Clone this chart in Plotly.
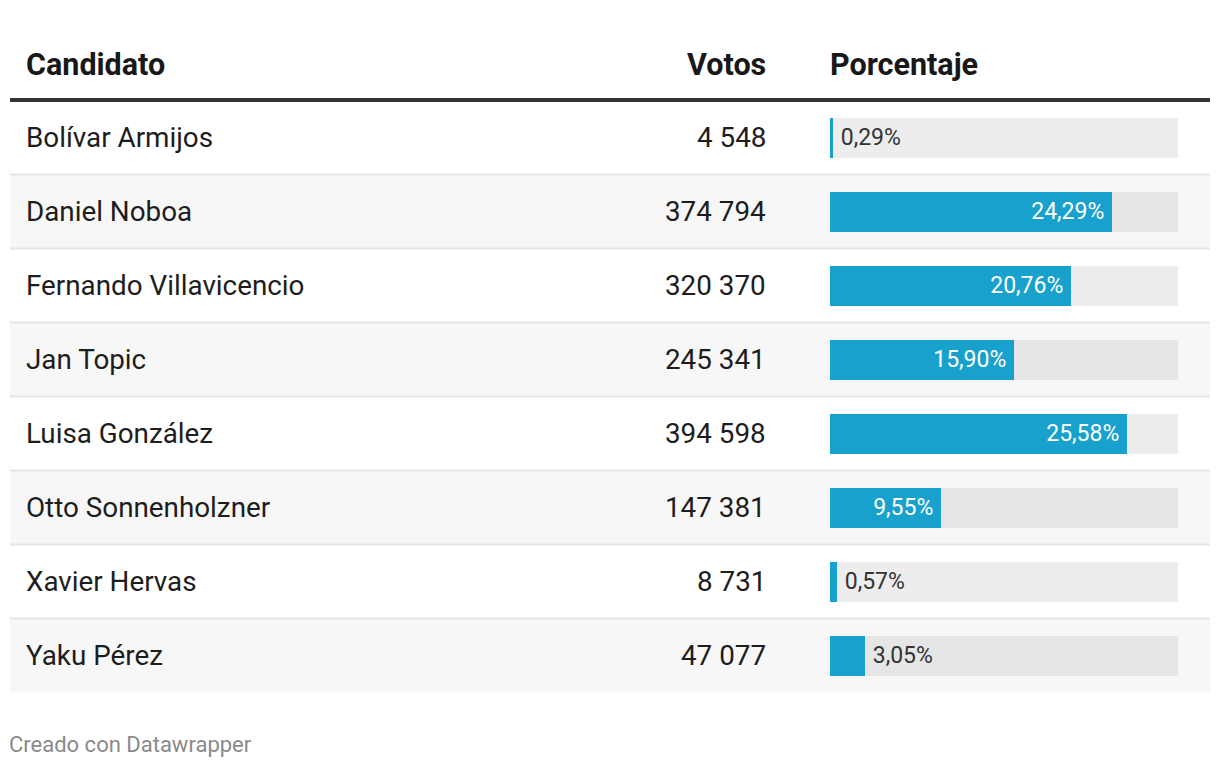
import plotly.graph_objects as go

# ---- data ----
candidatos = ["Bolívar Armijos", "Daniel Noboa", "Fernando Villavicencio", "Jan Topic",
              "Luisa González", "Otto Sonnenholzner", "Xavier Hervas", "Yaku Pérez"]
votos = [4548, 374794, 320370, 245341, 394598, 147381, 8731, 47077]
porcentaje = [0.29, 24.29, 20.76, 15.90, 25.58, 9.55, 0.57, 3.05]
headers = ["Candidato", "Votos", "Porcentaje"]
footer = "Creado con Datawrapper"

# ---- styling ----
W, H = 1220, 768
BLUE = "#18a1cd"
FONT = "Roboto"
TXT = "#1d1d1d"
n = len(candidatos)
rows = list(range(n))

def px_x(p):
    return p / W

def px_y(p):
    return 1 - p / H

THIN = "\u2009"
vot_txt = [f"{v:,}".replace(",", " ") for v in votos]
pct_pos = ["inside" if p > 5 else "outside" for p in porcentaje]
pct_txt = [(f"{p:.2f}".replace(".", ",") + "%" + THIN) if pos == "inside"
           else (THIN + f"{p:.2f}".replace(".", ",") + "%")
           for p, pos in zip(porcentaje, pct_pos)]
row_colors = ["#ffffff" if i % 2 == 0 else "#f7f7f7" for i in rows]
track_colors = ["#ededed" if i % 2 == 0 else "#e6e6e6" for i in rows]

fig = go.Figure()

# row backgrounds (full-width axis x)
fig.add_trace(go.Bar(
    x=[1] * n, y=rows, orientation="h", width=1, base=0,
    marker=dict(color=row_colors, line=dict(width=0)),
    xaxis="x", yaxis="y", hoverinfo="skip", showlegend=False))

# track bars (x2)
fig.add_trace(go.Bar(
    x=[30] * n, y=rows, orientation="h", width=40 / 74,
    marker=dict(color=track_colors, line=dict(width=0)),
    xaxis="x2", yaxis="y", hoverinfo="skip", showlegend=False))

# value bars (x2)
fig.add_trace(go.Bar(
    x=porcentaje, y=rows, orientation="h", width=40 / 74,
    marker=dict(color=BLUE, line=dict(width=0)),
    text=pct_txt, textposition=pct_pos, insidetextanchor="end",
    insidetextfont=dict(family=FONT, size=23, color="#ffffff"),
    outsidetextfont=dict(family=FONT, size=23, color="#333333"),
    cliponaxis=False, constraintext="none",
    xaxis="x2", yaxis="y", hoverinfo="skip", showlegend=False))

annotations = []
for i in rows:
    annotations.append(dict(x=14 / 1200, y=i, xref="x", yref="y", text=candidatos[i],
                            xanchor="left", yanchor="middle", showarrow=False,
                            font=dict(family=FONT, size=27.8, color=TXT)))
    annotations.append(dict(x=758 / 1200, y=i, xref="x", yref="y", text=vot_txt[i],
                            xanchor="right", yanchor="middle", showarrow=False,
                            font=dict(family=FONT, size=27.8, color=TXT)))

# headers
annotations += [
    dict(x=px_x(24), y=px_y(64), xref="paper", yref="paper", text=f"<b>{headers[0]}</b>",
         xanchor="left", yanchor="middle", showarrow=False,
         font=dict(family=FONT, size=30.5, color="#181818")),
    dict(x=px_x(768), y=px_y(64), xref="paper", yref="paper", text=f"<b>{headers[1]}</b>",
         xanchor="right", yanchor="middle", showarrow=False,
         font=dict(family=FONT, size=30.5, color="#181818")),
    dict(x=px_x(828), y=px_y(64), xref="paper", yref="paper", text=f"<b>{headers[2]}</b>",
         xanchor="left", yanchor="middle", showarrow=False,
         font=dict(family=FONT, size=30.5, color="#181818")),
    dict(x=px_x(7), y=px_y(744), xref="paper", yref="paper", text=footer,
         xanchor="left", yanchor="middle", showarrow=False,
         font=dict(family=FONT, size=22, color="#8a8a8a")),
]

shapes = [dict(type="line", xref="paper", yref="paper", x0=px_x(10), x1=px_x(1210),
               y0=px_y(100), y1=px_y(100), line=dict(color="#333333", width=4), layer="above")]
for i in rows[:-1]:
    shapes.append(dict(type="line", xref="paper", yref="y", x0=px_x(10), x1=px_x(1210),
                       y0=i + 0.5, y1=i + 0.5, line=dict(color="#e6e6e6", width=2), layer="above"))

fig.update_layout(
    width=W, height=H, margin=dict(l=0, r=0, t=0, b=0),
    paper_bgcolor="#ffffff", plot_bgcolor="rgba(0,0,0,0)",
    barmode="overlay", bargap=0,
    xaxis=dict(domain=[px_x(10), px_x(1210)], range=[0, 1], visible=False, fixedrange=True),
    xaxis2=dict(domain=[px_x(830), px_x(1178)], range=[0, 30], visible=False, fixedrange=True,
                anchor="y"),
    yaxis=dict(domain=[px_y(692.5), px_y(100.5)], range=[n - 0.5, -0.5], visible=False,
               fixedrange=True),
    annotations=annotations, shapes=shapes,
    font=dict(family=FONT),
)

fig.write_html("out.html", config={"displayModeBar": False},
               post_script="document.body.style.margin='0';document.body.style.overflow='hidden';")
